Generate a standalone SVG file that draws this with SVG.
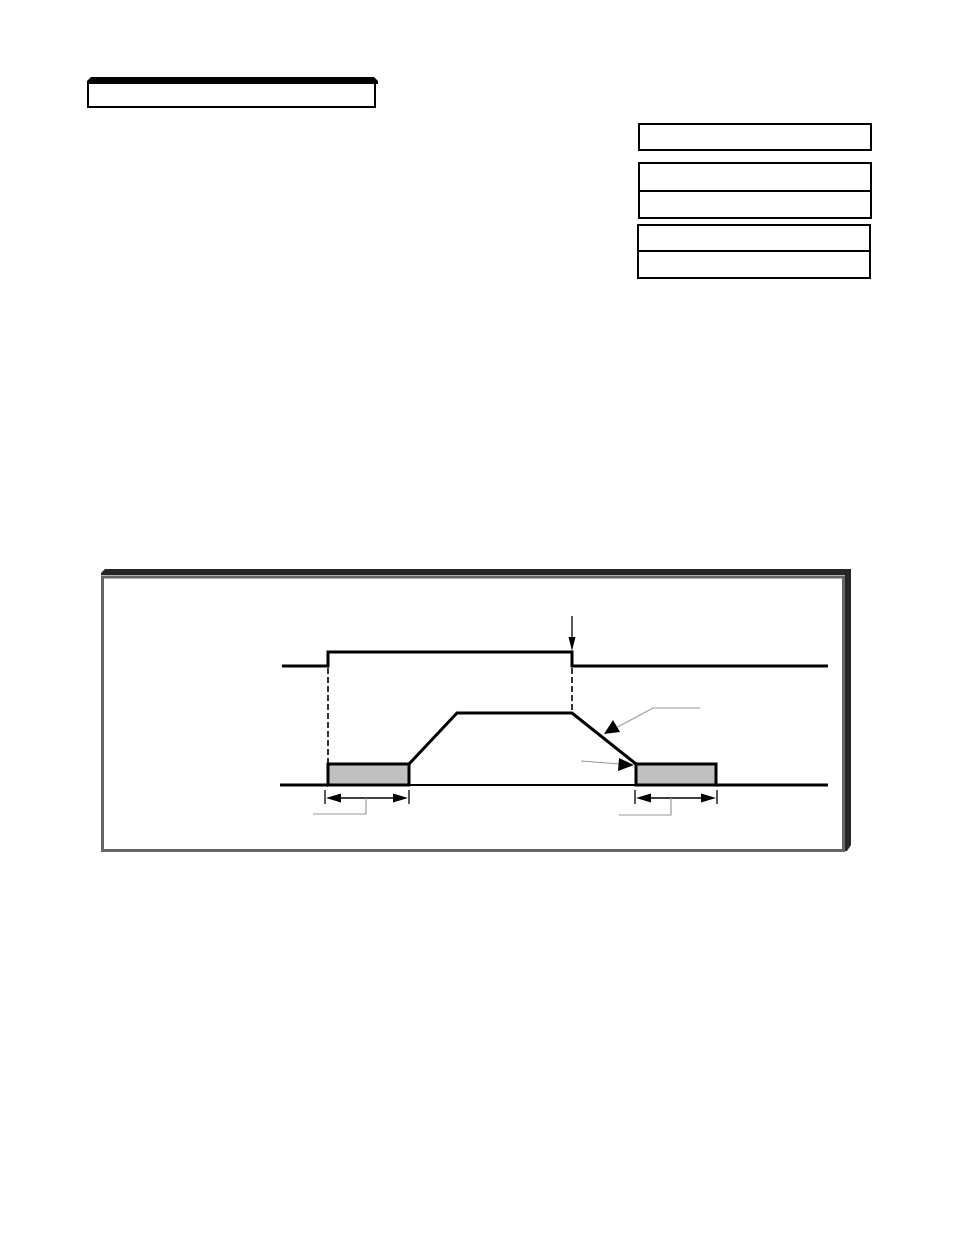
<svg xmlns="http://www.w3.org/2000/svg" width="954" height="1235" viewBox="0 0 954 1235">
<style>
.box{fill:#fff;stroke:#000;stroke-width:2}
.sig{fill:none;stroke:#000;stroke-width:3;stroke-linejoin:miter}
.thin{fill:none;stroke:#000;stroke-width:2}
.dash{fill:none;stroke:#000;stroke-width:1.6;stroke-dasharray:6,3}
.lead{fill:none;stroke:#999;stroke-width:1.2}
.dim{fill:none;stroke:#000;stroke-width:1.3}
.head{fill:#000}
</style>
<rect width="954" height="1235" fill="#fff"/>
<g id="title">
<path d="M91,77L374,77L378,81L378,84L87,84L87,81Z" fill="#000"/>
<rect class="box" x="88" y="83" width="287" height="24"/>
</g>
<g id="box1"><rect class="box" x="639" y="124" width="232" height="26"/></g>
<g id="box2"><rect class="box" x="639" y="163" width="232" height="55"/><line class="thin" x1="639" y1="191" x2="871" y2="191"/></g>
<g id="box3"><rect class="box" x="638" y="225" width="232" height="53"/><line class="thin" x1="638" y1="251" x2="870" y2="251"/></g>
<g id="panel">
<path d="M105,569L851,569L851,845L847,851L845,851L845,575L101,575L101,573Z" fill="#262626"/>
<rect x="102.5" y="577" width="741" height="273.5" fill="none" stroke="#666" stroke-width="3"/>
</g>
<g id="signals">
<polyline class="sig" points="282,666 328,666 328,652 572,652 572,666 828,666"/>
<polyline class="sig" points="280,785 328,785"/>
<rect x="328" y="764" width="81" height="21" fill="#c0c0c0" stroke="#000" stroke-width="3"/>
<polyline class="sig" points="409,764 457,713 572,713 636,764"/>
<rect x="636" y="764" width="80" height="21" fill="#c0c0c0" stroke="#000" stroke-width="3"/>
<line class="thin" x1="409" y1="785" x2="636" y2="785"/>
<polyline class="sig" points="716,785 828,785"/>
</g>
<g id="connectors">
<line class="dim" x1="572" y1="616" x2="572" y2="640"/>
<path class="head" d="M572,651L568.5,637L575.5,637Z"/>
<line class="dash" x1="328" y1="668" x2="328" y2="763"/>
<line class="dash" x1="572" y1="668" x2="572" y2="712"/>
<line class="dim" x1="325" y1="790" x2="325" y2="804"/>
<line class="dim" x1="409" y1="790" x2="409" y2="804"/>
<line class="dim" x1="338" y1="798" x2="396" y2="798"/>
<path class="head" d="M326,798L341,793.5L341,802.5Z"/>
<path class="head" d="M408,798L393,793.5L393,802.5Z"/>
<polyline class="lead" points="366,798 366,814 313,814"/>
<line class="dim" x1="635" y1="790" x2="635" y2="804"/>
<line class="dim" x1="717" y1="790" x2="717" y2="804"/>
<line class="dim" x1="648" y1="798" x2="704" y2="798"/>
<path class="head" d="M636,798L651,793.5L651,802.5Z"/>
<path class="head" d="M716,798L701,793.5L701,802.5Z"/>
<polyline class="lead" points="671,798 671,815 619,815"/>
<polyline class="lead" points="700,708 653,708 614,729"/>
<path class="head" d="M604,734L613,720L620,732Z"/>
<line class="lead" x1="581" y1="761" x2="620" y2="764"/>
<path class="head" d="M634,765L619,758L618,771Z"/>
</g>
</svg>
